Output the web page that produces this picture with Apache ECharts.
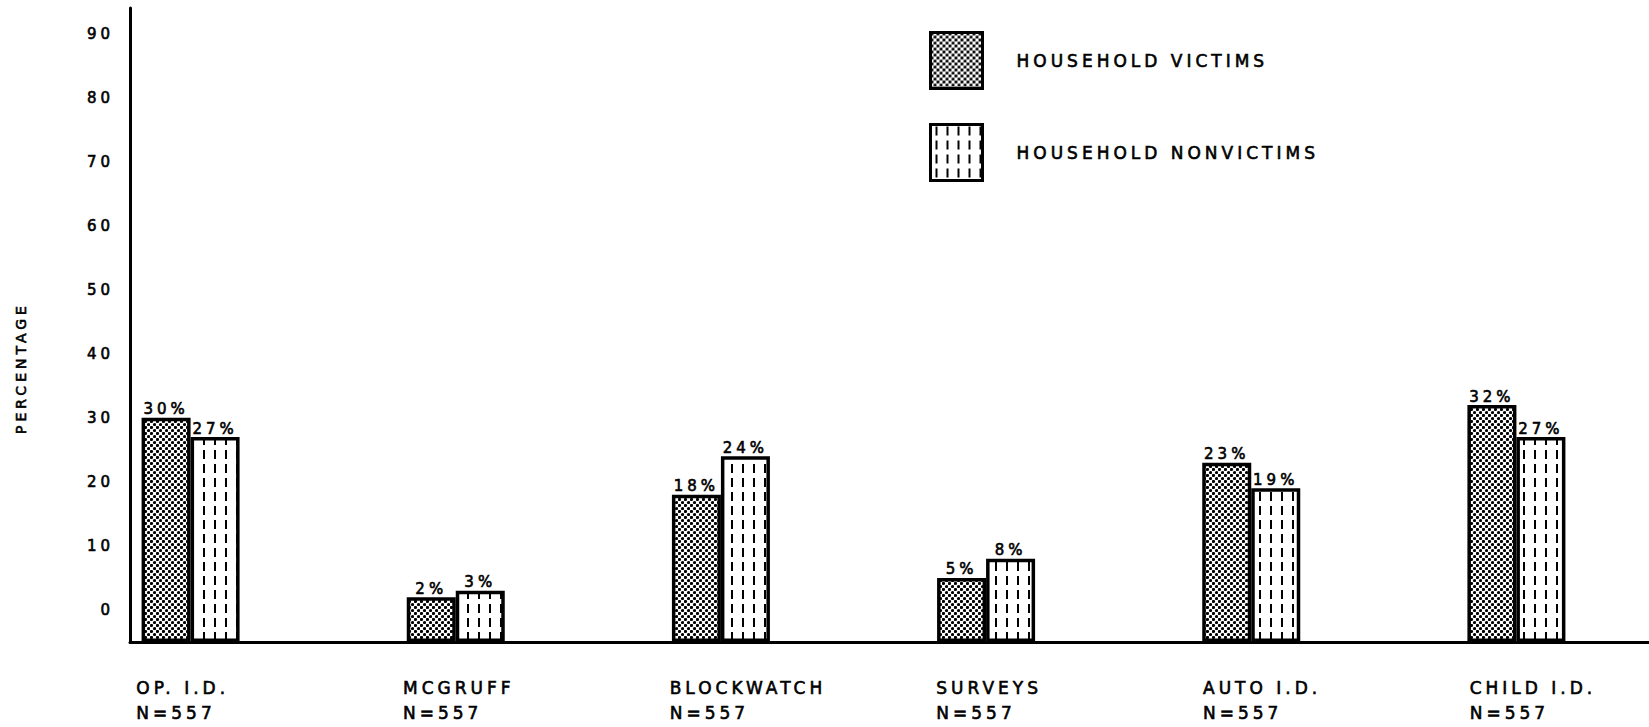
<!DOCTYPE html>
<html>
<head>
<meta charset="utf-8">
<script src="https://cdn.jsdelivr.net/npm/echarts@6.0.0/dist/echarts.min.js"></script>
<style>
  html, body { margin: 0; padding: 0; background: #fff; }
  #chart { width: 1649px; height: 727px; }
  /* typewriter look: wide letter spacing on every text of the svg output */
  #chart svg text { letter-spacing: 4px; }
</style>
</head>
<body>
<div id="chart"></div>
<script>
const categories = ['OP. I.D.', 'MCGRUFF', 'BLOCKWATCH', 'SURVEYS', 'AUTO I.D.', 'CHILD I.D.']
const sampleSizes = [557, 557, 557, 557, 557, 557]
const victims = [30, 2, 18, 5, 23, 32]
const nonvictims = [27, 3, 24, 8, 19, 27]
const yTickLabels = [0, 10, 20, 30, 40, 50, 60, 70, 80, 90]
const seriesNames = ['HOUSEHOLD VICTIMS', 'HOUSEHOLD NONVICTIMS']

const FONT = '"DejaVu Sans", sans-serif'
const Y_MIN = -5
const Y_MAX = 94
// slightly heavier strokes than the regular face, like the typed originals
const INK = { color: '#000', fontFamily: FONT, textBorderColor: '#000', textBorderWidth: 0.6 }

function dotPattern() {
  const c = document.createElement('canvas')
  c.width = 6
  c.height = 6
  const g = c.getContext('2d')
  g.fillStyle = '#fff'
  g.fillRect(0, 0, 6, 6)
  g.fillStyle = '#000'
  ;[[1.5, 1.5], [4.5, 4.5]].forEach(([x, y]) => {
    g.beginPath()
    g.arc(x, y, 1.6, 0, Math.PI * 2)
    g.fill()
  })
  return { image: c, repeat: 'repeat', imageWidth: 6, imageHeight: 6 }
}

function dashPattern() {
  const c = document.createElement('canvas')
  c.width = 11
  c.height = 14
  const g = c.getContext('2d')
  g.fillStyle = '#fff'
  g.fillRect(0, 0, 11, 14)
  g.fillStyle = '#000'
  g.fillRect(5, 2, 2, 9)
  return { image: c, repeat: 'repeat', imageWidth: 11, imageHeight: 14 }
}

const chart = echarts.init(document.getElementById('chart'), null, { renderer: 'svg' })

const barLabel = {
  ...INK,
  show: true,
  position: 'top',
  distance: 1,
  fontSize: 15,
  formatter: '{c}%'
}

chart.setOption({
  backgroundColor: '#fff',
  animation: false,
  textStyle: { fontFamily: FONT, color: '#000' },
  // 0: axes frame, 1: bars, 2: category labels (shifted left, labels are left aligned)
  grid: [
    { left: 130, right: 0, top: 8, bottom: 85 },
    { left: 58, width: 1600, top: 8, bottom: 85 },
    { left: 3, width: 1600, top: 8, bottom: 85 }
  ],
  legend: {
    orient: 'vertical',
    left: 924,
    top: 26,
    itemWidth: 52,
    itemHeight: 56,
    itemGap: 33,
    icon: 'rect',
    itemStyle: { borderColor: '#000', borderWidth: 3 },
    textStyle: { ...INK, fontSize: 17, padding: [-16, 0, 0, 29] },
    data: seriesNames
  },
  xAxis: [
    {
      gridIndex: 0, type: 'value', min: 0, max: 1,
      axisLine: { show: true, onZero: false, lineStyle: { color: '#000', width: 3 } },
      axisTick: { show: false }, axisLabel: { show: false }, splitLine: { show: false }
    },
    { gridIndex: 1, type: 'category', data: categories, show: false },
    {
      gridIndex: 2, type: 'category', data: categories,
      axisLine: { show: false }, axisTick: { show: false }, splitLine: { show: false },
      axisLabel: {
        ...INK,
        interval: 0, align: 'left', margin: 33, lineHeight: 25, fontSize: 17,
        formatter: (v, i) => v + '\nN=' + sampleSizes[i]
      }
    }
  ],
  yAxis: [
    {
      gridIndex: 0, type: 'value', min: Y_MIN, max: Y_MAX, interval: 5,
      axisLine: { show: true, onZero: false, lineStyle: { color: '#000', width: 3 } },
      axisTick: { show: false }, splitLine: { show: false },
      axisLabel: {
        ...INK,
        margin: 16, fontSize: 15,
        formatter: v => (yTickLabels.includes(v) ? String(v) : '')
      }
    },
    { gridIndex: 1, type: 'value', min: Y_MIN, max: Y_MAX, startValue: Y_MIN, show: false },
    { gridIndex: 2, type: 'value', show: false }
  ],
  graphic: [
    {
      type: 'text', x: 21, y: 368, rotation: Math.PI / 2,
      style: {
        text: 'PERCENTAGE', fontSize: 14, fill: '#000', fontFamily: FONT,
        stroke: '#000', lineWidth: 0.6, align: 'center', verticalAlign: 'middle'
      }
    }
  ],
  series: [
    {
      name: seriesNames[0], type: 'bar', xAxisIndex: 1, yAxisIndex: 1,
      data: victims, barWidth: 49, barGap: '0%',
      itemStyle: { color: dotPattern(), borderColor: '#000', borderWidth: 3.5 },
      label: barLabel
    },
    {
      name: seriesNames[1], type: 'bar', xAxisIndex: 1, yAxisIndex: 1,
      data: nonvictims, barWidth: 49, barGap: '0%',
      itemStyle: { color: dashPattern(), borderColor: '#000', borderWidth: 3.5 },
      label: barLabel
    }
  ]
})
</script>
</body>
</html>
